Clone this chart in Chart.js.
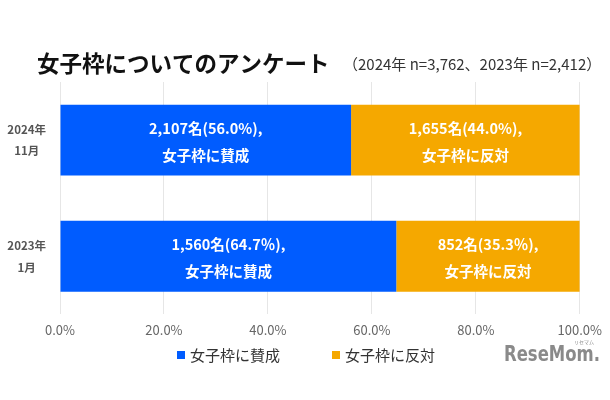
<!DOCTYPE html>
<html>
<head>
<meta charset="utf-8">
<script src="https://cdn.jsdelivr.net/npm/chart.js@4"></script>
<style>
  html, body { margin: 0; padding: 0; background: #fff; }
  #wrap { width: 610px; height: 400px; position: relative; }
</style>
</head>
<body>
<div id="wrap"><canvas id="surveyChart"></canvas></div>
<script>
const categories = [['2024年', '11月'], ['2023年', '1月']];
const seriesNames = ['女子枠に賛成', '女子枠に反対'];
const agreePct = [56.0, 64.7];
const disagreePct = [44.0, 35.3];
const agreeCount = ['2,107', '1,560'];
const disagreeCount = ['1,655', '852'];
const pctSign = ['%', '％'];
const xTicks = [0, 20, 40, 60, 80, 100];

const blue = 'rgb(0, 92, 255)';
const orange = 'rgb(245, 168, 0)';
const jp = '"Noto Sans CJK JP", "Noto Sans", sans-serif';

// title, subtitle, legend and logo, drawn around the plot
const extrasPlugin = {
  id: 'extras',
  afterDraw(chart) {
    const c = chart.ctx;
    c.save();
    c.textBaseline = 'middle';
    c.textAlign = 'left';
    c.fillStyle = '#111';
    c.font = 'bold 22.5px ' + jp;
    c.fillText('女子枠についてのアンケート', 37, 63);
    c.fillStyle = '#333';
    c.font = '15px ' + jp;
    c.fillText('（2024年 n=3,762、2023年 n=2,412）', 343, 64);

    // legend
    const legendX = [177, 332];
    c.font = '15px ' + jp;
    chart.data.datasets.forEach((ds, i) => {
      c.fillStyle = ds.backgroundColor;
      c.fillRect(legendX[i], 351, 8, 8);
      c.fillStyle = '#333';
      c.fillText(ds.label, legendX[i] + 13, 355);
    });

    // site logo
    c.fillStyle = '#8a8a8a';
    c.font = 'bold 21px "DejaVu Sans Condensed", sans-serif';
    const w = c.measureText('ReseMom.').width;
    c.save();
    c.translate(504, 356);
    c.scale(96 / w, 1);
    c.fillText('ReseMom.', 0, 0);
    c.restore();
    c.font = '5px ' + jp;
    c.textAlign = 'right';
    c.fillText('リセマム', 594, 342);
    c.restore();
  }
};

// two-line white labels inside each bar segment
const barLabels = {
  id: 'barLabels',
  afterDatasetsDraw(chart) {
    const c = chart.ctx;
    c.save();
    c.fillStyle = '#fff';
    c.textAlign = 'center';
    c.textBaseline = 'middle';
    c.font = 'bold 14.5px ' + jp;
    chart.data.datasets.forEach((ds, di) => {
      chart.getDatasetMeta(di).data.forEach((bar, i) => {
        const cx = (bar.x + bar.base) / 2;
        const count = di === 0 ? agreeCount[i] : disagreeCount[i];
        const line1 = count + '名(' + ds.data[i].toFixed(1) + pctSign[i] + '),';
        c.fillText(line1, cx, bar.y - 12);
        c.fillText(seriesNames[di], cx, bar.y + 15);
      });
    });
    c.restore();
  }
};

new Chart(document.getElementById('surveyChart'), {
  type: 'bar',
  data: {
    labels: categories,
    datasets: [
      { label: seriesNames[0], data: agreePct, backgroundColor: blue },
      { label: seriesNames[1], data: disagreePct, backgroundColor: orange }
    ]
  },
  options: {
    indexAxis: 'y',
    responsive: true,
    maintainAspectRatio: false,
    animation: false,
    categoryPercentage: 1,
    barPercentage: 0.61,
    layout: { padding: { top: 82, right: 28, bottom: 54, left: 0 } },
    scales: {
      x: {
        stacked: true,
        min: 0,
        max: 100,
        afterBuildTicks: (scale) => { scale.ticks = xTicks.map(v => ({ value: v })); },
        ticks: {
          color: '#666',
          font: { size: 13, family: jp },
          padding: 8,
          callback: (v) => v.toFixed(1) + '%'
        },
        grid: { color: '#e6e6e6', drawTicks: false },
        border: { display: false }
      },
      y: {
        stacked: true,
        afterFit: (scale) => { scale.width = 60; },
        ticks: {
          color: '#555',
          crossAlign: 'center',
          font: { size: 11.5, weight: 'bold', family: jp, lineHeight: 1.9 },
          padding: 6
        },
        grid: { display: false },
        border: { display: false }
      }
    },
    plugins: {
      tooltip: { enabled: false },
      legend: { display: false }
    }
  },
  plugins: [extrasPlugin, barLabels]
});
</script>
</body>
</html>
